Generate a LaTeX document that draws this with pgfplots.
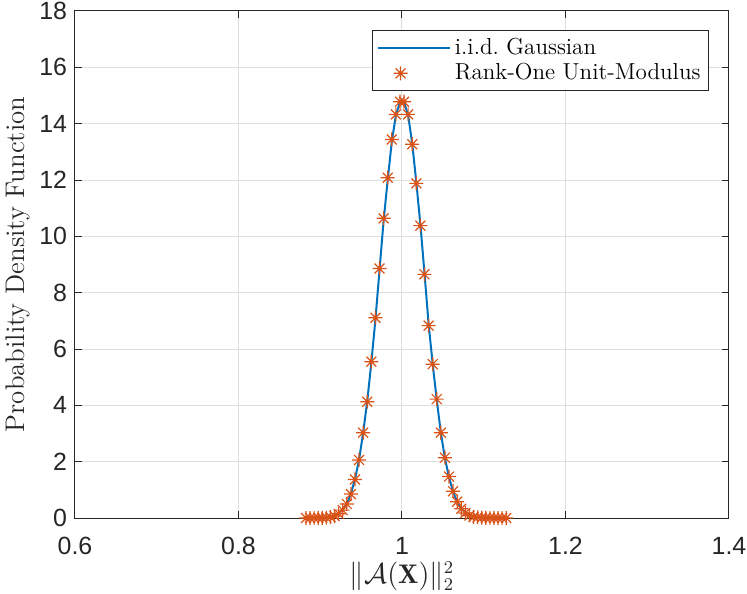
\documentclass[border=0pt]{standalone}
\usepackage{pgfplots}
\pgfplotsset{compat=1.18}
\usepackage{fontspec}
\newfontfamily\helv{Liberation Sans}
\definecolor{mblue}{rgb}{0,0.447,0.741}
\definecolor{morange}{rgb}{0.85,0.325,0.098}
\definecolor{axgray}{rgb}{0.15,0.15,0.15}
\definecolor{gridgray}{rgb}{0.87,0.87,0.87}
\pgfdeclareplotmark{mstar}{%
 \pgfpathmoveto{\pgfqpoint{-\pgfplotmarksize}{0pt}}\pgfpathlineto{\pgfqpoint{\pgfplotmarksize}{0pt}}%
 \pgfpathmoveto{\pgfqpoint{0pt}{-\pgfplotmarksize}}\pgfpathlineto{\pgfqpoint{0pt}{\pgfplotmarksize}}%
 \pgfpathmoveto{\pgfqpoint{-0.7071\pgfplotmarksize}{-0.7071\pgfplotmarksize}}\pgfpathlineto{\pgfqpoint{0.7071\pgfplotmarksize}{0.7071\pgfplotmarksize}}%
 \pgfpathmoveto{\pgfqpoint{-0.7071\pgfplotmarksize}{0.7071\pgfplotmarksize}}\pgfpathlineto{\pgfqpoint{0.7071\pgfplotmarksize}{-0.7071\pgfplotmarksize}}%
 \pgfusepathqstroke}
\pgfplotstableread{
x y
0.8825 0
0.8875 0
0.8925 0.001
0.8975 0.003
0.9025 0.007
0.9075 0.015
0.9125 0.03
0.9175 0.07
0.9225 0.15
0.9275 0.28
0.9325 0.50
0.9375 0.85
0.9425 1.37
0.9475 2.06
0.9525 3.03
0.9575 4.13
0.9625 5.55
0.9675 7.11
0.9725 8.86
0.9775 10.64
0.9825 12.08
0.9875 13.44
0.9925 14.33
0.9975 14.78
1.0025 14.78
1.0075 14.33
1.0125 13.27
1.0175 11.88
1.0225 10.38
1.0275 8.65
1.0325 6.83
1.0375 5.46
1.0425 4.22
1.0475 3.03
1.0525 2.14
1.0575 1.47
1.0625 0.95
1.0675 0.58
1.0725 0.33
1.0775 0.18
1.0825 0.09
1.0875 0.04
1.0925 0.02
1.0975 0.01
1.1025 0.005
1.1075 0.002
1.1125 0.001
1.1175 0
1.1225 0
1.1275 0
}\rankone
\pgfplotstableread{
x y
0.8825 0
0.8925 0.001
0.9025 0.007
0.9125 0.03
0.9225 0.15
0.9325 0.50
0.9375 0.86
0.9425 1.38
0.9475 2.07
0.9525 3.03
0.9575 4.15
0.9625 5.52
0.9675 7.05
0.9725 8.80
0.9775 10.55
0.9825 12.00
0.9875 13.36
0.9925 14.30
0.9975 14.76
1.0000 14.82
1.0025 14.76
1.0075 14.30
1.0125 13.30
1.0175 11.92
1.0225 10.42
1.0275 8.70
1.0325 6.90
1.0375 5.48
1.0425 4.20
1.0475 3.03
1.0525 2.12
1.0575 1.45
1.0625 0.93
1.0675 0.57
1.0725 0.32
1.0825 0.09
1.0925 0.02
1.1025 0.005
1.1275 0
}\gauss
\begin{document}
\begin{tikzpicture}
\begin{axis}[
  scale only axis,
  width=327bp, height=253.5bp,
  xmin=0.6, xmax=1.4, ymin=0, ymax=18,
  xtick={0.6,0.8,1,1.2,1.4},
  xticklabels={0.6,0.8,1,1.2,1.4},
  ytick={0,2,...,18},
  grid=major,
  major grid style={gridgray, line width=0.5bp},
  axis line style={axgray, line width=0.5bp},
  tick style={axgray, line width=0.5bp},
  tick align=inside,
  major tick length=3.5bp,
  tick label style={font=\helv\fontsize{12.5}{14}\selectfont, text=axgray},
  xticklabel style={yshift=-6bp},
  yticklabel style={xshift=-0.5bp},
  /pgf/number format/assume math mode=true,
  xlabel={$\|\mathcal{A}(\mathbf{X})\|_2^2$},
  ylabel={Probability Density Function},
  label style={font=\fontsize{13.5}{15}\selectfont, text=axgray},
  xlabel style={yshift=3.3bp},
  ylabel style={yshift=-2bp},
  legend style={at={(rel axis cs:1,1)}, anchor=north east, xshift=-10bp, yshift=-9.5bp,
     font=\fontsize{11.6}{13}\selectfont, draw=axgray, line width=0.5bp, inner sep=2bp,
     row sep=-1bp},
  legend cell align=left,
  legend image code/.code={\draw[#1] (0cm,0cm) -- (1.27cm,0cm);},
  clip=false,
]
\addplot[mblue, line width=1bp, mark=none] table[x=x,y=y] {\gauss};
\addlegendentry{i.i.d.\ Gaussian}
\addplot[morange, only marks, mark=mstar, mark size=3.5bp, line width=0.6bp,
  legend image code/.code={\draw[mark=mstar,mark size=3.5bp, morange, line width=0.6bp] plot coordinates {(0.4cm,0cm)};}] table[x=x,y=y] {\rankone};
\addlegendentry{Rank-One Unit-Modulus}
\coordinate (sw) at (rel axis cs:0,0);
\coordinate (ne) at (rel axis cs:1,1);
\end{axis}
\pgfresetboundingbox
\path ([shift={(-37.5bp,-38bp)}]sw) rectangle ([shift={(9bp,5.5bp)}]ne);
\end{tikzpicture}
\end{document}
